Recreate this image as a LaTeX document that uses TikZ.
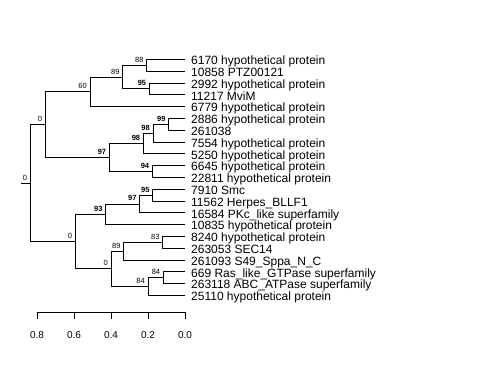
\documentclass[tikz,border=0pt]{standalone}
\usepackage{fontspec}
\setmainfont{Liberation Sans}
\tikzset{
  edge/.style={line width=0.8pt, black},
  leaf/.style={anchor=base west, inner sep=0pt, font=\fontsize{12}{12}\selectfont},
  bs/.style={anchor=base east, inner sep=0pt, xshift=-3pt, yshift=3pt, font=\fontsize{7.5}{7.5}\selectfont},
  bsb/.style={bs, font=\fontsize{7.5}{7.5}\selectfont\bfseries},
  ticklab/.style={anchor=base, inner sep=0pt, font=\fontsize{10}{10}\selectfont},
}
\begin{document}
\begin{tikzpicture}[x=1pt, y=-1pt]
\useasboundingbox (0,0) rectangle (480,384);
% leaves
\foreach \i/\t in {1/{6170 hypothetical protein},2/{10858 PTZ00121},3/{2992 hypothetical protein},4/{11217 MviM},5/{6779 hypothetical protein},6/{2886 hypothetical protein},7/{261038},8/{7554 hypothetical protein},9/{5250 hypothetical protein},10/{6645 hypothetical protein},11/{22811 hypothetical protein},12/{7910 Smc},13/{11562 Herpes\_BLLF1},14/{16584 PKc\_like superfamily},15/{10835 hypothetical protein},16/{8240 hypothetical protein},17/{263053 SEC14},18/{261093 S49\_Sppa\_N\_C},19/{669 Ras\_like\_GTPase superfamily},20/{263118 ABC\_ATPase superfamily},21/{25110 hypothetical protein}}{
  \coordinate (L\i) at (185, {59.3+(\i-1)*11.8});
  \node[leaf] (T\i) at (191, {59.3+(\i-1)*11.8+5.3}) {\t};
}
% internal nodes
\coordinate (n88) at (146.7,65.2);
\coordinate (n95a) at (149.3,88.8);
\coordinate (n89a) at (122.7,77.0);
\coordinate (n60) at (90,91.75);
\coordinate (n99) at (168.7,124.2);
\coordinate (n98i) at (153,133.0);
\coordinate (n98o) at (143.3,143.4);
\coordinate (n94) at (152.3,171.4);
\coordinate (n97a) at (109.3,157.4);
\coordinate (n0u) at (45.3,124.6);
\coordinate (n95b) at (152.7,195.0);
\coordinate (n97b) at (139.7,203.9);
\coordinate (n93) at (105.7,214.2);
\coordinate (n83) at (162.7,242.2);
\coordinate (n89b) at (123.7,251.0);
\coordinate (n84u) at (163.3,277.6);
\coordinate (n84l) at (148,286.4);
\coordinate (n0li) at (111,268.7);
\coordinate (n0l) at (75.3,241.5);
\coordinate (root) at (30.3,183.0);
\coordinate (stub) at (20.7,183.0);
% edges
\draw[edge] (n88) |- (L1); \draw[edge] (n88) |- (L2);
\draw[edge] (n95a) |- (L3); \draw[edge] (n95a) |- (L4);
\draw[edge] (n89a) |- (n88); \draw[edge] (n89a) |- (n95a);
\draw[edge] (n60) |- (n89a); \draw[edge] (n60) |- (L5);
\draw[edge] (n99) |- (L6); \draw[edge] (n99) |- (L7);
\draw[edge] (n98i) |- (n99); \draw[edge] (n98i) |- (L8);
\draw[edge] (n98o) |- (n98i); \draw[edge] (n98o) |- (L9);
\draw[edge] (n94) |- (L10); \draw[edge] (n94) |- (L11);
\draw[edge] (n97a) |- (n98o); \draw[edge] (n97a) |- (n94);
\draw[edge] (n0u) |- (n60); \draw[edge] (n0u) |- (n97a);
\draw[edge] (n95b) |- (L12); \draw[edge] (n95b) |- (L13);
\draw[edge] (n97b) |- (n95b); \draw[edge] (n97b) |- (L14);
\draw[edge] (n93) |- (n97b); \draw[edge] (n93) |- (L15);
\draw[edge] (n83) |- (L16); \draw[edge] (n83) |- (L17);
\draw[edge] (n89b) |- (n83); \draw[edge] (n89b) |- (L18);
\draw[edge] (n84u) |- (L19); \draw[edge] (n84u) |- (L20);
\draw[edge] (n84l) |- (n84u); \draw[edge] (n84l) |- (L21);
\draw[edge] (n0li) |- (n89b); \draw[edge] (n0li) |- (n84l);
\draw[edge] (n0l) |- (n93); \draw[edge] (n0l) |- (n0li);
\draw[edge] (root) |- (n0u); \draw[edge] (root) |- (n0l);
\draw[edge] (stub) -- (root);
% support labels
\node[bs] at (n88) {88};
\node[bsb] at (n95a) {95};
\node[bs] at (n89a) {89};
\node[bs] at (n60) {60};
\node[bsb] at (n99) {99};
\node[bsb] at (n98i) {98};
\node[bsb] at (n98o) {98};
\node[bsb] at (n94) {94};
\node[bsb] at (n97a) {97};
\node[bs] at (n0u) {0};
\node[bsb] at (n95b) {95};
\node[bsb] at (n97b) {97};
\node[bsb] at (n93) {93};
\node[bs] at (n83) {83};
\node[bs] at (n89b) {89};
\node[bs] at (n84u) {84};
\node[bs] at (n84l) {84};
\node[bs] at (n0li) {0};
\node[bs] at (n0l) {0};
\node[bs] at (root) {0};
% axis
\coordinate (a8) at (37,312); \coordinate (a6) at (74,312); \coordinate (a4) at (111,312);
\coordinate (a2) at (148,312); \coordinate (a0) at (185,312);
\draw[edge] (a8) -- (a0);
\foreach \c/\l in {a8/0.8,a6/0.6,a4/0.4,a2/0.2,a0/0.0}{
  \draw[edge] (\c) -- ++(0,7);
  \node[ticklab] at ([yshift=-26pt]\c) {\l};
}
\end{tikzpicture}
\end{document}
